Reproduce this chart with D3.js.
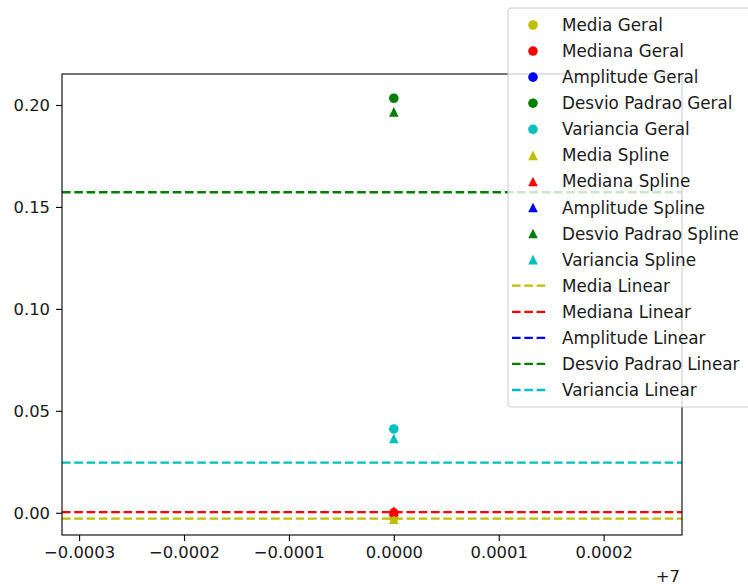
<!DOCTYPE html>
<html>
<head>
<meta charset="utf-8">
<script src="https://cdn.jsdelivr.net/npm/d3@7"></script>
<style>
  html, body { margin: 0; padding: 0; background: #fff; }
  svg { display: block; font-family: "DejaVu Sans", sans-serif; }
</style>
</head>
<body>
<svg id="chart" width="748" height="585"></svg>
<script>
// Statistics compared across methods (all measured at x = 7)
const measures = ["Media", "Mediana", "Amplitude", "Desvio Padrao", "Variancia"];
const measureColors = ["#bfbf00", "#ff0000", "#0000ff", "#008000", "#00bfbf"];
const xPosition = 7;
const geralValues  = [-0.0025, 0.0000, null, 0.2033, 0.0411];
const splineValues = [-0.0031, 0.0008, null, 0.1966, 0.0365];
const linearValues = [-0.0029, 0.0003, null, 0.1572, 0.0246];
const xTickOffsets = [-0.0003, -0.0002, -0.0001, 0.0000, 0.0001, 0.0002];
const yTicks = [0.00, 0.05, 0.10, 0.15, 0.20];

const svg = d3.select("#chart");
const plot = { left: 62, right: 682, top: 74, bottom: 535 };

const x = d3.scaleLinear()
  .domain([xPosition - 0.0003163, xPosition + 0.0002747])
  .range([plot.left, plot.right]);
const y = d3.scaleLinear()
  .domain([-0.0109, 0.2152])
  .range([plot.bottom, plot.top]);

const minus = s => s.replace("-", "\u2212");

// axes
const xAxis = d3.axisBottom(x)
  .tickValues(xTickOffsets.map(d => xPosition + d))
  .tickSizeOuter(0).tickSize(6).tickPadding(5)
  .tickFormat(d => minus((d - xPosition).toFixed(4)));
const yAxis = d3.axisLeft(y)
  .tickValues(yTicks)
  .tickSizeOuter(0).tickSize(6).tickPadding(6)
  .tickFormat(d => minus(d.toFixed(2)));

const gx = svg.append("g").attr("transform", `translate(0,${plot.bottom})`).call(xAxis);
const gy = svg.append("g").attr("transform", `translate(${plot.left},0)`).call(yAxis);
[gx, gy].forEach(g => {
  g.select(".domain").remove();
  g.selectAll(".tick line").attr("stroke", "#000").attr("stroke-width", 1.1);
  g.selectAll(".tick text").attr("fill", "#1a1a1a").style("font-size", "16.4px")
    .style("font-family", "'DejaVu Sans', sans-serif");
});

// offset text for the x axis
svg.append("text")
  .attr("x", plot.right - 2).attr("y", 582)
  .attr("text-anchor", "end")
  .attr("fill", "#1a1a1a").style("font-size", "16.4px")
  .text("+7");

svg.append("defs").append("clipPath").attr("id", "plotclip")
  .append("rect")
  .attr("x", plot.left).attr("y", plot.top)
  .attr("width", plot.right - plot.left).attr("height", plot.bottom - plot.top);

const area = svg.append("g").attr("clip-path", "url(#plotclip)");

// isosceles triangle marker, as wide as it is tall
const markerSize = 9.6;
const triPath = (() => {
  const h = markerSize / 2;
  return `M0,${-h}L${h},${h}L${-h},${h}Z`;
})();
const lineWidth = 2.3;
const dashes = "8.6,3.7";

// Geral: circles
measures.forEach((m, i) => {
  const v = geralValues[i];
  if (v === null) return;
  area.append("circle")
    .attr("cx", x(xPosition)).attr("cy", y(v)).attr("r", markerSize / 2)
    .attr("fill", measureColors[i]);
});
// Spline: triangles
measures.forEach((m, i) => {
  const v = splineValues[i];
  if (v === null) return;
  area.append("path")
    .attr("d", triPath)
    .attr("transform", `translate(${x(xPosition)},${y(v)})`)
    .attr("fill", measureColors[i]);
});
// Linear: dashed horizontal lines
measures.forEach((m, i) => {
  const v = linearValues[i];
  if (v === null) return;
  area.append("line")
    .attr("x1", plot.left).attr("x2", plot.right)
    .attr("y1", y(v)).attr("y2", y(v))
    .attr("stroke", measureColors[i]).attr("stroke-width", lineWidth)
    .attr("stroke-dasharray", dashes);
});

// frame
svg.append("rect")
  .attr("x", plot.left).attr("y", plot.top)
  .attr("width", plot.right - plot.left).attr("height", plot.bottom - plot.top)
  .attr("fill", "none").attr("stroke", "#000").attr("stroke-width", 1.1);

// legend
const legend = svg.append("g");
legend.append("rect")
  .attr("x", 508).attr("y", 8).attr("width", 246).attr("height", 399)
  .attr("rx", 3)
  .attr("fill", "#fff").attr("fill-opacity", 0.8)
  .attr("stroke", "#cccccc").attr("stroke-width", 1);

const entries = [];
measures.forEach((m, i) => entries.push({ label: m + " Geral", kind: "circle", color: measureColors[i] }));
measures.forEach((m, i) => entries.push({ label: m + " Spline", kind: "triangle", color: measureColors[i] }));
measures.forEach((m, i) => entries.push({ label: m + " Linear", kind: "line", color: measureColors[i] }));

const rowY = d3.scaleLinear().domain([0, entries.length - 1]).range([25, 390]);
entries.forEach((e, k) => {
  const cy = rowY(k);
  if (e.kind === "circle") {
    legend.append("circle").attr("cx", 533).attr("cy", cy).attr("r", markerSize / 2).attr("fill", e.color);
  } else if (e.kind === "triangle") {
    legend.append("path").attr("d", triPath)
      .attr("transform", `translate(533,${cy})`).attr("fill", e.color);
  } else {
    legend.append("line").attr("x1", 512).attr("x2", 548).attr("y1", cy).attr("y2", cy)
      .attr("stroke", e.color).attr("stroke-width", lineWidth).attr("stroke-dasharray", dashes);
  }
  legend.append("text")
    .attr("x", 562).attr("y", cy).attr("dy", "0.36em")
    .attr("fill", "#1a1a1a").style("font-size", "16.8px")
    .text(e.label);
});
</script>
</body>
</html>
